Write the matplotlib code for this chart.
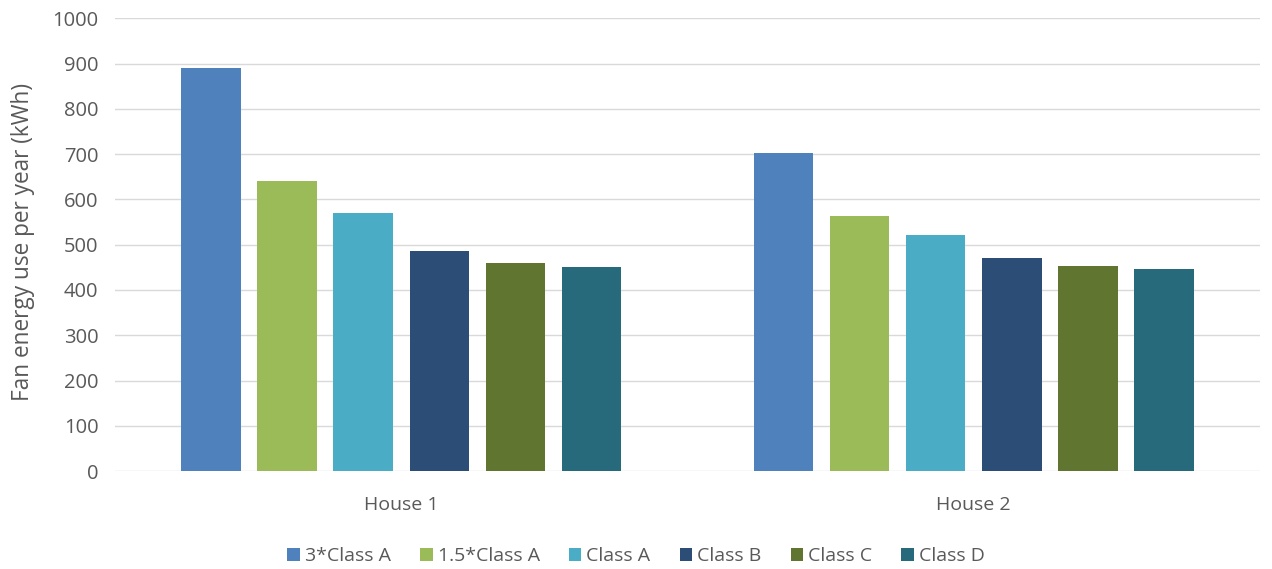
import matplotlib
matplotlib.use("Agg")
import matplotlib.pyplot as plt
import numpy as np

categories = ["House 1", "House 2"]
series = ["3*Class A", "1.5*Class A", "Class A", "Class B", "Class C", "Class D"]
values = {
    "3*Class A":   [890, 703],
    "1.5*Class A": [640, 563],
    "Class A":     [570, 521],
    "Class B":     [485, 470],
    "Class C":     [459, 453],
    "Class D":     [450, 447],
}
colors = ["#4F81BD", "#9BBB59", "#4BACC6", "#2C4D75", "#5F7530", "#276A7C"]
yticks = list(range(0, 1001, 100))

plt.rcParams['font.family'] = ['Open Sans', 'DejaVu Sans']
txt = "#595959"

fig = plt.figure(figsize=(12.72, 5.69), dpi=100)
ax = fig.add_axes([0.0904, 0.172, 0.9002, 0.796])

x = np.arange(len(categories))
pitch = 0.133
width = 0.104
for i, s in enumerate(series):
    ax.bar(x + (i - 2.5) * pitch, values[s], width=width, color=colors[i],
           label=s, zorder=3)

ax.set_xlim(-0.5, 1.5)
ax.set_ylim(0, 1000)
ax.set_yticks(yticks)
ax.set_xticks(x)
ax.set_xticklabels(categories)
ax.grid(axis='y', color="#D9D9D9", linewidth=1, zorder=0)
for sp in ax.spines.values():
    sp.set_visible(False)
ax.tick_params(axis='y', length=0, labelsize=14.5, colors=txt, pad=12)
ax.tick_params(axis='x', length=0, labelsize=14, colors=txt, pad=18)

fig.text(23 / 1272, 1 - 242 / 569, "Fan energy use per year (kWh)", rotation=90,
         ha='center', va='center', fontsize=16.3, color=txt)

fig.legend(loc='center', bbox_to_anchor=(0.5, 1 - 556 / 569), ncol=6, frameon=False,
           fontsize=14, labelcolor=txt, handlelength=0.65, handleheight=0.65,
           handletextpad=0.25, columnspacing=1.5, borderpad=0, borderaxespad=0)

fig.savefig("out.png", dpi=100)
